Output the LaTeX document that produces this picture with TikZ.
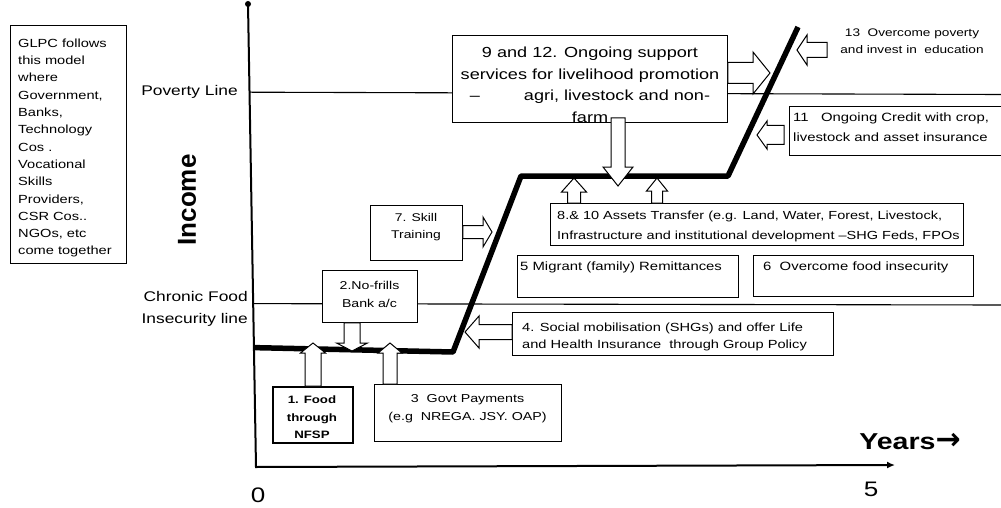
\documentclass[tikz,border=0pt]{standalone}
\usepackage{fontspec}
\setmainfont{Liberation Sans}[FakeStretch=1.24]
\newfontfamily\plainsans{Liberation Sans}
\newfontfamily\arrowsans{DejaVu Sans}
\usetikzlibrary{calc,arrows.meta}

\newcommand{\fs}[2]{\fontsize{#1}{#2}\selectfont}

% horizontal block arrow: tail, tip, shaft half-width, head half-width, head length
\newcommand{\hblock}[5]{%
  \draw[blockarrow] let \p1=(#1), \p2=(#2), \n1={ifthenelse(\x2>\x1,1,-1)*#5} in
    (\x1,\y2+#3) -- (\x2-\n1,\y2+#3) -- (\x2-\n1,\y2+#4) -- (\p2)
    -- (\x2-\n1,\y2-#4) -- (\x2-\n1,\y2-#3) -- (\x1,\y2-#3) -- cycle;}
% vertical block arrow: tail, tip, shaft half-width, head half-width, head length
\newcommand{\vblock}[5]{%
  \draw[blockarrow] let \p1=(#1), \p2=(#2), \n1={ifthenelse(\y2>\y1,1,-1)*#5} in
    (\x2+#3,\y1) -- (\x2+#3,\y2-\n1) -- (\x2+#4,\y2-\n1) -- (\p2)
    -- (\x2-#4,\y2-\n1) -- (\x2-#3,\y2-\n1) -- (\x2-#3,\y1) -- cycle;}

\tikzset{
  frame/.style={draw=black, line width=0.8pt, fill=white, inner sep=0pt, anchor=north west},
  lbl/.style={inner sep=0pt, align=left, anchor=north west},
  ctr/.style={inner sep=0pt, align=center, anchor=north},
  blockarrow/.style={draw=black, line width=1pt, fill=white, line join=miter},
  level/.style={line width=1.1pt},
  income/.style={line width=5.5pt, line join=round},
  axis/.style={line width=2pt},
}

\begin{document}
\begin{tikzpicture}[x=1pt,y=-1pt]
\fill[white] (0,0) rectangle (1001,508);
\useasboundingbox (0,0) rectangle (1001,508);

% axes
\coordinate (ytop) at (248,4);
\coordinate (ybot) at (256,467);
\coordinate (xend) at (895,465);
\draw[axis, -{Latex[length=8pt,width=7pt]}] (ytop) -- (ybot) -- (xend);
\fill (ytop) circle (3);

% threshold lines
\draw[level] ($(ytop)!(0,96.5)!(ybot)$) -- (1001,94.5);
\draw[level] ($(ytop)!(0,308)!(ybot)$) -- (1001,305);

% boxes
\node[frame, line width=1.1pt, minimum width=116pt, minimum height=238pt] (glpc) at (10,25) {};
\node[frame, minimum width=275pt, minimum height=87pt] (b912) at (452,35) {};
\node[frame, minimum width=413pt, minimum height=42pt] (b810) at (550,203) {};
\node[frame, minimum width=221pt, minimum height=42pt] (b5) at (517,255) {};
\node[frame, minimum width=220pt, minimum height=41pt] (b6) at (753,255) {};
\node[frame, minimum width=321pt, minimum height=43pt] (b4) at (512,312) {};
\node[frame, minimum width=92pt, minimum height=55pt] (b7) at (370,205) {};
\node[frame, minimum width=95pt, minimum height=52pt] (b2) at (322,270) {};
\node[frame, line width=1.6pt, minimum width=80pt, minimum height=56pt] (b1) at (272,386) {};
\node[frame, minimum width=187pt, minimum height=57pt] (b3) at (374,384) {};
\node[frame, minimum width=216pt, minimum height=49pt] (b11) at (789,106) {};

% income path
\coordinate (p0) at ($(ytop)!(0,352)!(ybot)$);
\coordinate (p1) at (453,352);
\coordinate (p2) at (521,176);
\coordinate (p3) at (728,176);
\coordinate (p4) at (798,27);
\draw[income] (p0) -- (p1) -- (p2) -- (p3) -- (p4);

% arrow tips on the path
\coordinate (t1) at (313,343);
\coordinate (t3) at (390,343);
\coordinate (t2) at (352,351);
\coordinate (t4) at (465,332);
\coordinate (t7) at (492,232);
\coordinate (t8) at (574,178);
\coordinate (t10) at (657,178);
\coordinate (t9) at (618,186);
\coordinate (t12) at (770,73);
\coordinate (t11) at (757,135);
\coordinate (t13) at (797,50);
\coordinate (s13) at (827,50);

\vblock{b1.north}{t1}{8}{12.5}{10}
\vblock{b3.north}{t3}{7}{12}{10}
\vblock{b2.south}{t2}{8}{15.5}{8}
\hblock{b4.west}{t4}{7.5}{16}{14}
\hblock{b7.east}{t7}{6.5}{15}{9}
\vblock{b810.north}{t8}{6.5}{12.5}{14}
\vblock{b810.north}{t10}{5.5}{10.5}{13}
\vblock{$(b912.south)+(0,-5)$}{t9}{7}{15}{19}
\hblock{b912.east}{t12}{10.5}{21}{17}
\hblock{$(b11.west)+(-5,0)$}{t11}{9.5}{14}{10}
\hblock{s13}{t13}{7.5}{15}{10}

% texts
\node[lbl, font=\fs{11.8}{17.3}] (glpct) at (18,38.6) {GLPC follows\\this model\\where\\Government,\\Banks,\\Technology\\Cos .\\Vocational\\Skills\\Providers,\\CSR Cos..\\NGOs, etc\\come together};
\node[inner sep=0pt, anchor=mid east, font=\fs{14}{16}] (pov) at (238,93) {Poverty Line};
\node[inner sep=0pt, anchor=north east, align=right, font=\fs{14}{22}] (chr) at (248,290.8) {Chronic Food\\Insecurity line};
\node[rotate=90, font=\plainsans\bfseries\fs{26}{26}] (income) at (187,200) {Income};

\node[ctr, font=\fs{14.6}{21.7}] (b912t) at (590,46.6) {9 and 12. Ongoing support\\services for livelihood promotion\\–\hspace{44pt}agri, livestock and non-\\farm};
\node[lbl, font=\fs{11.7}{20}] (b810t) at (557,210.6) {8.\& 10 Assets Transfer (e.g. Land, Water, Forest, Livestock,\\Infrastructure and institutional development –SHG Feds, FPOs};
\node[inner sep=0pt, anchor=mid west, font=\fs{12}{14}] (b5t) at (520,268) {5 Migrant (family) Remittances};
\node[inner sep=0pt, anchor=mid west, font=\fs{12}{14}] (b6t) at (763,268) {6\ \ Overcome food insecurity};
\node[lbl, font=\fs{11.8}{17}] (b4t) at (522,322.6) {4. Social mobilisation (SHGs) and offer Life\\and Health Insurance\ \ through Group Policy};
\node[ctr, font=\fs{11.2}{17}] (b7t) at (416,213.6) {7. Skill\\Training};
\node[ctr, font=\fs{11.4}{18}] (b2t) at (369.5,280.8) {2.No-frills\\Bank a/c};
\node[ctr, font=\bfseries\fs{10.7}{17.5}] (b1t) at (312,396) {1. Food\\through\\NFSP};
\node[ctr, font=\fs{11.5}{18}] (b3t) at (467.5,394.6) {3\ \ Govt Payments\\(e.g\ \ NREGA. JSY. OAP)};
\node[lbl, font=\fs{12}{20}] (b11t) at (793,112.6) {11\ \ \ Ongoing Credit with crop,\\livestock and asset insurance};
\node[ctr, font=\fs{11}{17}] (t13t) at (912,29) {13\ \ Overcome poverty\\and invest in\ \ education};

% axis labels
\node[inner sep=0pt, font=\fs{21}{21}] (zero) at (258,495) {0};
\node[inner sep=0pt, font=\fs{21}{21}] (five) at (871,489) {5};
\node[inner sep=0pt, font=\bfseries\fs{23}{23}] (years) at (910,442) {Years{\arrowsans\bfseries\fs{30}{30}→}};
\end{tikzpicture}
\end{document}
